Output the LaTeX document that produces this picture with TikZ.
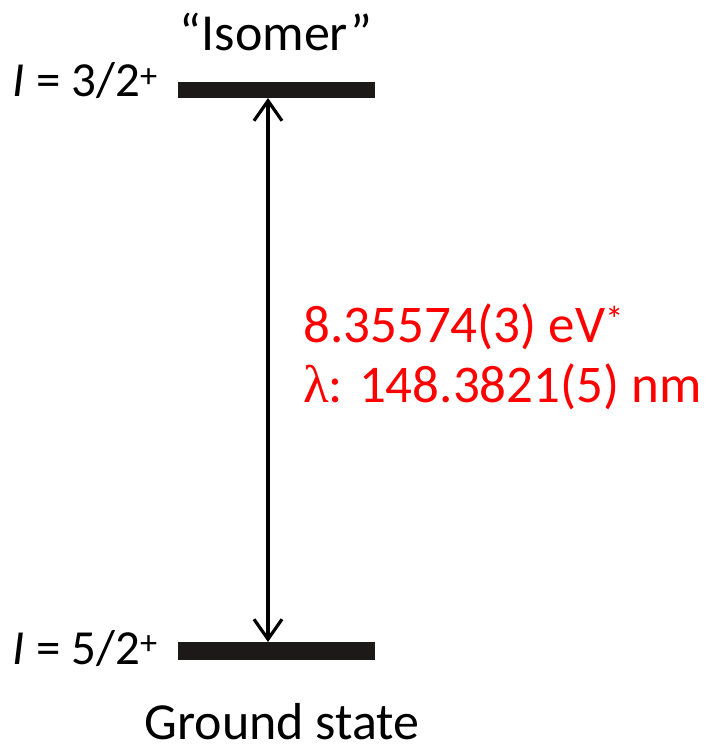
\documentclass[tikz,border=0pt]{standalone}
\usepackage{fontspec}
\setmainfont{Carlito}
\newfontfamily\lamfont{Liberation Serif}
\usetikzlibrary{arrows.meta}
\definecolor{barblack}{RGB}{30,25,25}
\tikzset{
  level/.style={fill=barblack, draw=none},
  lbl/.style={font=\fontsize{52}{60}\selectfont, inner sep=0pt},
  spinlbl/.style={font=\fontsize{49}{58}\selectfont, inner sep=0pt},
  redlbl/.style={font=\fontsize{53}{62}\selectfont, text=red, inner sep=0pt, align=left},
  transition/.style={line width=3.2pt, {Straight Barb[length=20pt,width=28pt,line width=3.2pt]}-{Straight Barb[length=20pt,width=28pt,line width=3.2pt]}}
}
\begin{document}
\begin{tikzpicture}[x=1pt,y=-1pt]
\useasboundingbox (0,0) rectangle (705,749);
\fill[level] (178,82) rectangle (375,98);
\fill[level] (178,642) rectangle (375,660);
\coordinate (top) at (268,98);
\coordinate (bot) at (268,642);
\draw[transition] (top) -- (bot);
\node[lbl, anchor=base] (iso) at (276,51) {“Isomer”};
\node[spinlbl, anchor=base east] (i3) at (158,97) {\textit{I} = 3/2\textsuperscript{+}};
\node[spinlbl, anchor=base east] (i5) at (158,664) {\textit{I} = 5/2\textsuperscript{+}};
\node[lbl, anchor=base] (gs) at (282,739) {Ground state};
\node[redlbl, anchor=base west] (en) at (303,342) {8.35574(3) eV\textsuperscript{*}};
\node[redlbl, anchor=base west] (wl) at (303,402) {{\lamfont λ}: 148.3821(5) nm};
\end{tikzpicture}
\end{document}
